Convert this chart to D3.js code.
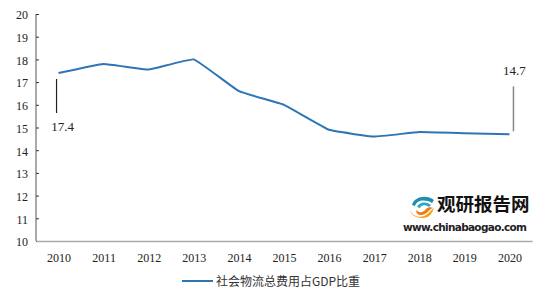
<!DOCTYPE html>
<html>
<head>
<meta charset="utf-8">
<script src="https://cdn.jsdelivr.net/npm/d3@7"></script>
<style>
    body { margin: 0; background: #fff; }
    svg { display: block; }
</style>
</head>
<body>
<div id="chart"></div>
<script>
// data
const years = ['2010', '2011', '2012', '2013', '2014', '2015', '2016', '2017', '2018', '2019', '2020'];
const ratio = [17.4, 17.8, 17.55, 18.0, 16.6, 16.0, 14.9, 14.6, 14.8, 14.75, 14.7];
const yTicks = [10, 11, 12, 13, 14, 15, 16, 17, 18, 19, 20];
const seriesName = '社会物流总费用占GDP比重';

const width = 551, height = 291;
const margin = { top: 14, right: 19, bottom: 50, left: 36 };
const serif = '"Liberation Serif", "Times New Roman", serif';

const svg = d3.select('#chart').append('svg')
    .attr('width', width)
    .attr('height', height);

let x = d3.scalePoint()
    .domain(years)
    .range([margin.left, width - margin.right])
    .padding(0.5);

let y = d3.scaleLinear()
    .domain([10, 20])
    .range([height - margin.bottom, margin.top]);

// y axis, ticks pointing inward
let yAxis = svg.append('g')
    .attr('transform', `translate(${margin.left},0)`)
    .call(d3.axisRight(y).tickValues(yTicks).tickSize(3).tickFormat(d3.format('d')));
yAxis.select('.domain').attr('stroke', '#555').attr('d', `M0,${y(20)}V${y(10)}`);
yAxis.selectAll('.tick line').attr('stroke', '#333');
yAxis.selectAll('.tick text')
    .attr('x', -8)
    .attr('dy', '0.4em')
    .attr('text-anchor', 'end')
    .attr('font-family', serif)
    .attr('font-size', 12)
    .attr('fill', '#222');

// x axis
let xAxis = svg.append('g')
    .attr('transform', `translate(0,${y(10)})`)
    .call(d3.axisBottom(x).tickSize(0).tickPadding(12));
xAxis.select('.domain').attr('stroke', '#aaa').attr('stroke-width', 1.5);
xAxis.selectAll('.tick text')
    .attr('font-family', serif)
    .attr('font-size', 12)
    .attr('fill', '#222');

// the series line, only lightly smoothed
let line = d3.line()
    .x((d, i) => x(years[i]))
    .y(d => y(d))
    .curve(d3.curveCardinal.tension(0.75));

svg.append('path')
    .datum(ratio)
    .attr('d', line)
    .attr('fill', 'none')
    .attr('stroke', '#2e75b6')
    .attr('stroke-width', 2);

// callouts on first and last point
let first = 0, last = ratio.length - 1;
svg.append('line')
    .attr('x1', x(years[first]) - 2).attr('x2', x(years[first]) - 2)
    .attr('y1', y(ratio[first]) + 6).attr('y2', y(ratio[first]) + 40)
    .attr('stroke', '#222').attr('stroke-width', 1.2);
svg.append('text')
    .attr('x', x(years[first]) + 4)
    .attr('y', y(ratio[first]) + 58)
    .attr('text-anchor', 'middle')
    .attr('font-family', serif)
    .attr('font-size', 13)
    .attr('fill', '#222')
    .text(ratio[first].toFixed(1));

svg.append('line')
    .attr('x1', x(years[last]) + 4).attr('x2', x(years[last]) + 4)
    .attr('y1', y(ratio[last]) - 3).attr('y2', y(ratio[last]) - 48)
    .attr('stroke', '#888').attr('stroke-width', 1.5);
svg.append('text')
    .attr('x', x(years[last]) + 5)
    .attr('y', y(ratio[last]) - 59)
    .attr('text-anchor', 'middle')
    .attr('font-family', serif)
    .attr('font-size', 13)
    .attr('fill', '#222')
    .text(ratio[last].toFixed(1));

// legend
let legend = svg.append('g').attr('transform', 'translate(182,281)');
legend.append('line')
    .attr('x1', 0).attr('x2', 31)
    .attr('stroke', '#2e75b6').attr('stroke-width', 2);
legend.append('text')
    .attr('x', 34).attr('y', 4.5)
    .attr('font-family', '"Noto Sans CJK SC", sans-serif')
    .attr('font-size', 12)
    .attr('fill', '#333')
    .text(seriesName);

// watermark logo
let logo = svg.append('g').attr('transform', 'translate(410,196)');
logo.append('path')
    .attr('d', 'M2,9 C4,1 16,-2 24,4 L22,7 C15,3 7,4 5,10 Z')
    .attr('fill', '#1c8fb0');
logo.append('path')
    .attr('d', 'M7,11 C9,6 16,5 21,9 L19,11 C15,8 11,9 10,12 Z')
    .attr('fill', '#2aa7c9');
logo.append('path')
    .attr('d', 'M0,13 C1,20 10,23 16,19 C19,17 22,13 24,12 C22,17 20,22 12,22 C5,22 0,18 0,13 Z')
    .attr('fill', '#f5a01a');
logo.append('path')
    .attr('d', 'M6,14 C9,17 13,17 16,13 C18,11 21,11 23,12 C19,13 17,19 11,19 C8,19 6,17 6,14 Z')
    .attr('fill', '#f07c12');
svg.append('text')
    .attr('x', 437).attr('y', 211)
    .attr('font-family', '"Noto Sans CJK SC", sans-serif')
    .attr('font-weight', 'bold')
    .attr('font-size', 18.5)
    .attr('fill', '#111')
    .text('观研报告网');
svg.append('text')
    .attr('x', 403).attr('y', 231)
    .attr('font-family', '"DejaVu Sans", sans-serif')
    .attr('font-weight', 'bold')
    .attr('font-size', 10.5)
    .attr('fill', '#222')
    .attr('textLength', 124)
    .text('www.chinabaogao.com');
</script>
</body>
</html>
